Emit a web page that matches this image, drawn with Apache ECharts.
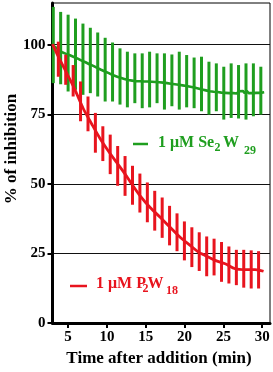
<!DOCTYPE html>
<html>
<head>
<meta charset="utf-8">
<script src="https://cdn.jsdelivr.net/npm/echarts@6/dist/echarts.min.js"></script>
<style>
html,body{margin:0;padding:0;background:#fff;}
#c{width:273px;height:372px;}
</style>
</head>
<body>
<div id="c"></div>
<script>
// ---- data ----
var xTicks = [5, 10, 15, 20, 25, 30];
var yTicks = [0, 25, 50, 75, 100];

// Se2W29 mean trace (time, % inhibition) - noisy recording
var greenTime = [3.00,3.25,3.50,3.75,4.00,4.25,4.50,4.75,5.00,5.25,5.50,5.75,6.00,6.25,6.50,6.75,7.00,7.25,7.50,7.75,8.00,8.25,8.50,8.75,9.00,9.25,9.50,9.75,10.00,10.25,10.50,10.75,11.00,11.25,11.50,11.75,12.00,12.25,12.50,12.75,13.00,13.25,13.50,13.75,14.00,14.25,14.50,14.75,15.00,15.25,15.50,15.75,16.00,16.25,16.50,16.75,17.00,17.25,17.50,17.75,18.00,18.25,18.50,18.75,19.00,19.25,19.50,19.75,20.00,20.25,20.50,20.75,21.00,21.25,21.50,21.75,22.00,22.25,22.50,22.75,23.00,23.25,23.50,23.75,24.00,24.25,24.50,24.75,25.00,25.25,25.50,25.75,26.00,26.25,26.50,26.75,27.00,27.25,27.50,27.75,28.00,28.25,28.50,28.75,29.00,29.25,29.50,29.75,30.00,30.25];
var greenMean = [99.8,99.2,98.9,98.0,98.1,97.3,97.5,96.7,97.0,96.2,96.4,95.6,95.9,95.0,95.2,94.3,94.6,93.7,94.0,93.0,93.3,92.4,92.6,91.7,92.0,91.0,91.3,90.4,90.7,89.8,90.1,89.1,89.5,88.6,88.9,88.1,88.5,87.7,88.1,87.3,87.8,87.1,87.6,86.9,87.6,86.9,87.5,86.8,87.5,86.8,87.4,86.7,87.3,86.6,87.2,86.5,87.1,86.4,87.0,86.2,86.8,86.0,86.6,85.8,86.4,85.6,86.2,85.4,86.0,85.2,85.7,84.9,85.4,84.6,85.1,84.3,84.8,83.9,84.4,83.6,84.1,83.3,83.9,83.1,83.7,83.0,83.6,82.8,83.5,82.7,83.4,82.6,83.3,82.6,83.3,82.5,83.3,82.6,83.4,82.6,83.4,82.6,83.3,82.6,83.3,82.7,83.4,82.7,83.3,82.9];

// Se2W29 error bars
var greenBarTime = [3.10,4.05,5.01,5.96,6.92,7.87,8.82,9.78,10.73,11.69,12.64,13.60,14.55,15.50,16.46,17.41,18.37,19.32,20.27,21.23,22.18,23.14,24.09,25.05,26.00,26.95,27.91,28.86,29.82];
var greenHigh = [113.6,111.8,110.8,109.4,107.6,106.1,104.4,102.5,100.8,98.7,97.5,96.9,96.9,97.5,96.9,96.9,96.5,97.5,96.3,95.4,95.7,93.9,93.3,92.1,93.3,92.7,93.3,93.3,92.1];
var greenLow = [86.2,85.8,83.2,83.8,82.0,82.6,81.4,79.6,79.6,78.5,77.5,79.0,77.2,77.5,79.0,76.7,77.9,76.7,77.5,77.2,76.1,74.9,76.1,73.1,73.7,73.5,73.1,74.3,74.9];

// P2W18 mean trace
var redTime = [3.0,3.75,4.83,5.9,6.97,8.05,9.12,10.19,11.28,12.35,13.0,14.28,15.57,16.86,18.14,19.43,20.72,21.79,22.65,23.94,25.23,26.52,27.81,29.1,30.17];
var redMean = [100.2,95.7,89.8,83.8,77.0,71.5,66.3,61.8,57.6,53.5,50.8,45.7,41.5,38.0,34.4,30.8,27.9,25.5,24.3,22.5,21.3,19.5,19.2,19.2,18.6];

// P2W18 error bars
var redBarTime = [3.75,4.70,5.66,6.61,7.57,8.52,9.48,10.43,11.39,12.34,13.30,14.25,15.21,16.16,17.12,18.07,19.03,19.98,20.94,21.89,22.85,23.80,24.76,25.71,26.67,27.62,28.58,29.53];
var redHigh = [101.1,96.4,92.7,86.8,81.4,75.5,70.7,67.7,63.6,60.0,56.5,53.7,50.5,47.5,45.1,42.1,39.4,36.5,34.4,32.6,31.1,30.3,29.1,27.5,26.3,26.3,26.1,25.8];
var redLow = [88.5,85.6,81.4,72.5,68.9,61.2,58.2,53.5,49.3,45.7,42.5,39.7,36.2,33.2,30.6,27.9,25.8,22.5,20.1,18.7,16.8,17.1,14.8,14.2,13.6,12.7,12.4,12.4];

var GREEN = '#1f9e1f';
var RED = '#e8141e';
var FONT = '"Liberation Serif", "Times New Roman", serif';

function zip2(a, b) { return a.map(function (v, i) { return [v, b[i]]; }); }
function zip3(a, b, c) { return a.map(function (v, i) { return [v, b[i], c[i]]; }); }

function errorBars(color) {
  return function (params, api) {
    var x = api.value(0);
    var p1 = api.coord([x, api.value(1)]);
    var p2 = api.coord([x, api.value(2)]);
    return {
      type: 'line',
      shape: { x1: p1[0], y1: p1[1], x2: p2[0], y2: p2[1] },
      style: { stroke: color, lineWidth: 3 }
    };
  };
}

function txt(x, y, s, size, color) {
  return {
    type: 'text', x: x, y: y, z: 100,
    style: {
      text: s, font: 'bold ' + size + 'px ' + FONT, fill: color,
      textAlign: 'left', textVerticalAlign: 'middle', align: 'left', verticalAlign: 'middle'
    }
  };
}

var chart = echarts.init(document.getElementById('c'), null, { renderer: 'canvas' });
chart.setOption({
  animation: false,
  backgroundColor: '#fff',
  grid: { left: 52.5, right: 3, top: 3, bottom: 49, show: true, borderColor: '#000', borderWidth: 1, containLabel: false },
  xAxis: {
    type: 'value', min: 3, max: 31,
    axisLine: { show: true, lineStyle: { color: '#000', width: 3 } },
    axisTick: { show: true, customValues: xTicks, length: 5, lineStyle: { color: '#000', width: 2 } },
    axisLabel: { customValues: xTicks, color: '#000', fontFamily: FONT, fontWeight: 'bold', fontSize: 15, margin: 7 },
    splitLine: { show: false }
  },
  yAxis: {
    type: 'value', min: 0, max: 115, interval: 25,
    axisLine: { show: true, lineStyle: { color: '#000', width: 3 } },
    axisTick: { show: true, customValues: yTicks, length: 5, lineStyle: { color: '#000', width: 2 } },
    axisLabel: { customValues: yTicks, color: '#000', fontFamily: FONT, fontWeight: 'bold', fontSize: 15, margin: 7 },
    splitLine: { show: true, lineStyle: { color: '#111', width: 1 } }
  },
  series: [
    { type: 'custom', renderItem: errorBars(GREEN), data: zip3(greenBarTime, greenHigh, greenLow), encode: { x: 0, y: [1, 2] }, z: 2, silent: true },
    { type: 'line', data: zip2(greenTime, greenMean), showSymbol: false, lineStyle: { color: GREEN, width: 2.6 }, z: 3, silent: true },
    { type: 'custom', renderItem: errorBars(RED), data: zip3(redBarTime, redHigh, redLow), encode: { x: 0, y: [1, 2] }, z: 4, silent: true },
    { type: 'line', data: zip2(redTime, redMean), smooth: 0.3, showSymbol: false, lineStyle: { color: RED, width: 2.8 }, z: 5, silent: true }
  ],
  graphic: [
    { type: 'text', x: 12, y: 149, rotation: Math.PI / 2, z: 100,
      style: { text: '% of inhibition', font: 'bold 17px ' + FONT, fill: '#000', textAlign: 'center', textVerticalAlign: 'middle', align: 'center', verticalAlign: 'middle' } },
    { type: 'text', x: 159, y: 359, z: 100,
      style: { text: 'Time after addition (min)', font: 'bold 17px ' + FONT, fill: '#000', textAlign: 'center', textVerticalAlign: 'middle', align: 'center', verticalAlign: 'middle' } },
    { type: 'line', shape: { x1: 133, y1: 144, x2: 148, y2: 144 }, style: { stroke: GREEN, lineWidth: 2.5 }, z: 100 },
    txt(158, 143.3, '1 μM Se', 16, GREEN),
    txt(214.5, 147.5, '2', 12, GREEN),
    txt(223, 143.3, 'W', 16, GREEN),
    txt(244, 151, '29', 12, GREEN),
    { type: 'line', shape: { x1: 70, y1: 286, x2: 87, y2: 286 }, style: { stroke: RED, lineWidth: 2.5 }, z: 100 },
    txt(96, 284, '1 μM P', 16, RED),
    txt(142.5, 289, '2', 12, RED),
    txt(147.5, 284, 'W', 16, RED),
    txt(166, 291, '18', 12, RED)
  ]
});
</script>
</body>
</html>
